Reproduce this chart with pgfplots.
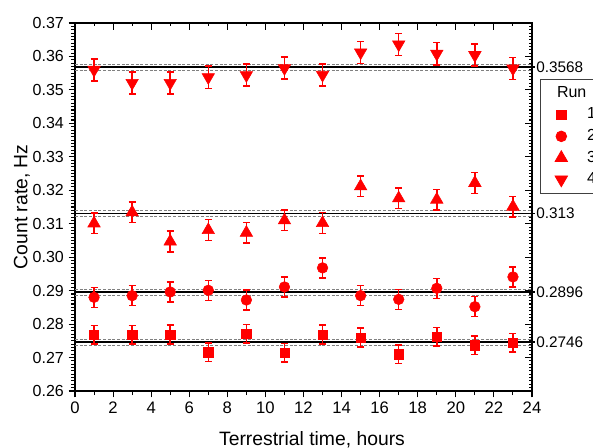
\documentclass[border=0pt]{standalone}
\usepackage{pgfplots}
\usepackage{pgfplotstable}
\pgfplotsset{compat=1.18}
\usepackage{fontspec}
\setmainfont{Liberation Sans}
\definecolor{runred}{RGB}{255,0,0}

% count rate per run, two-hour bins
\pgfplotstableread{
x   r1     e1     r2     e2     r3     e3     r4     e4
1   0.2768 0.0028 0.2880 0.0030 0.3101 0.0031 0.3560 0.0033
3   0.2768 0.0028 0.2885 0.0030 0.3134 0.0031 0.3521 0.0033
5   0.2769 0.0028 0.2896 0.0030 0.3047 0.0031 0.3521 0.0033
7   0.2716 0.0028 0.2901 0.0030 0.3081 0.0031 0.3538 0.0033
9   0.2771 0.0028 0.2872 0.0030 0.3073 0.0031 0.3544 0.0033
11  0.2714 0.0028 0.2911 0.0030 0.3110 0.0031 0.3565 0.0033
13  0.2769 0.0028 0.2968 0.0030 0.3102 0.0031 0.3545 0.0033
15  0.2760 0.0028 0.2885 0.0030 0.3212 0.0031 0.3612 0.0033
17  0.2710 0.0028 0.2874 0.0030 0.3176 0.0031 0.3636 0.0033
19  0.2762 0.0028 0.2907 0.0030 0.3172 0.0031 0.3608 0.0033
21  0.2737 0.0028 0.2852 0.0030 0.3222 0.0031 0.3604 0.0033
23  0.2744 0.0028 0.2941 0.0030 0.3151 0.0031 0.3564 0.0033
}\runs

\pgfplotsset{
  frame/.style={
    at={(56.25pt,42pt)}, anchor=south west,
    width=342.75pt, height=276pt, scale only axis,
    xmin=0, xmax=24, ymin=0.26, ymax=0.37,
    xtick={0,2,4,6,8,10,12,14,16,18,20,22,24}, minor x tick num=1,
    ytick={0.26,0.27,0.28,0.29,0.30,0.31,0.32,0.33,0.34,0.35,0.36,0.37},
    minor y tick num=9,
    axis line style={line width=1.1pt},
    every tick/.style={black,line width=0.8pt},
  },
  run/.style={only marks, runred, mark options={fill=runred,draw=runred},
    error bars/y dir=both, error bars/y explicit,
    error bars/error bar style={line width=1.1pt,runred},
    error bars/error mark options={rotate=90,mark size=2.6pt,line width=1.1pt,runred}},
  refline/.style={black,line width=1.1pt,forget plot},
  refband/.style={gray,line width=0.6pt,dash pattern=on 2.2pt off 1.3pt,forget plot},
}

\begin{document}
\begin{tikzpicture}
\useasboundingbox (0,0) rectangle (444.75pt,335.25pt);

% inner ticks on top and right
\begin{axis}[frame, tick pos=right, tick align=inside,
  major tick length=5pt, minor tick length=2.6pt,
  xticklabels={}, yticklabels={}]
\end{axis}

\begin{axis}[frame, tick pos=left, tick align=outside,
  major tick length=4.8pt, minor tick length=3pt,
  clip=false, scaled y ticks=false,
  /pgf/number format/assume math mode=true,
  yticklabel style={font=\fontsize{12}{14}\selectfont,
    /pgf/number format/fixed,/pgf/number format/fixed zerofill,
    /pgf/number format/precision=2},
  xticklabel style={font=\fontsize{12.5}{14}\selectfont},
  legend style={at={(rel axis cs:1.0175,0.847)}, anchor=north west,
    draw=black!75, line width=0.6pt, inner xsep=11pt, inner ysep=2pt,
    column sep=12pt, row sep=0pt,
    font=\fontsize{12}{14}\selectfont,
    nodes={inner sep=2.6pt, text height=8.6pt, text depth=2.4pt}},
  legend cell align=left,
  legend image code/.code={\draw[#1,only marks] plot coordinates {(0pt,0pt)};},
]
% reference levels with their bands
\addplot[refband] coordinates {(0,0.3577) (24,0.3577)};
\addplot[refband] coordinates {(0,0.3559) (24,0.3559)};
\addplot[refline] coordinates {(0,0.3568) (24.15,0.3568)};
\addplot[refband] coordinates {(0,0.3139) (24,0.3139)};
\addplot[refband] coordinates {(0,0.3121) (24,0.3121)};
\addplot[refline] coordinates {(0,0.3130) (24.15,0.3130)};
\addplot[refband] coordinates {(0,0.2905) (24,0.2905)};
\addplot[refband] coordinates {(0,0.2887) (24,0.2887)};
\addplot[refline] coordinates {(0,0.2896) (24.15,0.2896)};
\addplot[refband] coordinates {(0,0.2755) (24,0.2755)};
\addplot[refband] coordinates {(0,0.2737) (24,0.2737)};
\addplot[refline] coordinates {(0,0.2746) (24.15,0.2746)};

\addlegendimage{empty legend}
\addlegendentry{\hspace*{-22.5pt}Run}
\addplot[run, mark=square*, mark size=3.5pt] table[x=x,y=r1,y error=e1] {\runs};
\addlegendentry{1}
\addplot[run, mark=*, mark size=4pt] table[x=x,y=r2,y error=e2] {\runs};
\addlegendentry{2}
\addplot[run, mark=triangle*, mark size=5.4pt] table[x=x,y=r3,y error=e3] {\runs};
\addlegendentry{3}
\addplot[run, mark=triangle*, mark size=5.4pt, mark options={rotate=180}] table[x=x,y=r4,y error=e4] {\runs};
\addlegendentry{4}

\begin{scope}[font=\fontsize{11.5}{13}\selectfont]
\node[anchor=west,inner sep=0pt,xshift=3pt] at (axis cs:24,0.3568) {0.3568};
\node[anchor=west,inner sep=0pt,xshift=3pt] at (axis cs:24,0.3130) {0.313};
\node[anchor=west,inner sep=0pt,xshift=3pt] at (axis cs:24,0.2896) {0.2896};
\node[anchor=west,inner sep=0pt,xshift=3pt] at (axis cs:24,0.2746) {0.2746};
\end{scope}
\end{axis}

\node[anchor=base,font=\fontsize{14.5}{17}\selectfont] at (234pt,1.5pt) {Terrestrial time, hours};
\node[anchor=base,rotate=90,font=\fontsize{14.5}{17}\selectfont] at (20.5pt,180.2pt) {Count rate, Hz};
\end{tikzpicture}
\end{document}
